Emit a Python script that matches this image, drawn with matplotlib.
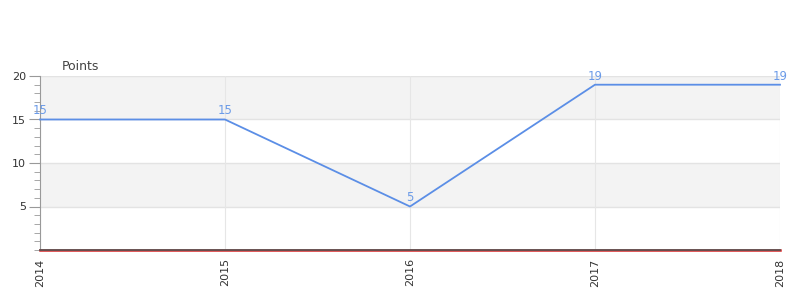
import matplotlib
matplotlib.use("Agg")
import matplotlib.pyplot as plt
from matplotlib.ticker import MultipleLocator

years = ["2014", "2015", "2016", "2017", "2018"]
points = [15, 15, 5, 19, 19]
baseline = [0, 0, 0, 0, 0]
y_ticks = [5, 10, 15, 20]

fig = plt.figure(figsize=(8, 3), dpi=100)
ax = fig.add_axes([0.05, 1 - 250/300, 0.925, (250 - 76)/300])

x = list(range(len(years)))
ax.set_xlim(0, len(years) - 1)
ax.set_ylim(0, 20)

# alternating bands
for lo, hi in [(15, 20), (5, 10)]:
    ax.axhspan(lo, hi, color="#f3f3f3", zorder=0, lw=0)
for yv in [5, 10, 15, 20]:
    ax.axhline(yv, color="#e3e3e3", lw=1, zorder=1)
for xv in x:
    ax.axvline(xv, color="#e6e6e6", lw=0.8, zorder=1)

ax.plot(x, baseline, color="#d62728", lw=1.8, zorder=3, clip_on=False)
ax.plot(x, points, color="#5b8ee6", lw=1.3, zorder=4, clip_on=False)
for xi, v in zip(x, points):
    ax.annotate(str(v), (xi, v), xytext=(0, 1.5), textcoords="offset points",
                ha="center", va="bottom", fontsize=8.5, color="#6b9be8")

ax.set_xticks(x)
ax.set_xticklabels(years, rotation=90, fontsize=8, color="#333333")
ax.set_yticks(y_ticks)
ax.set_yticklabels([str(t) for t in y_ticks], fontsize=8, color="#333333")
ax.yaxis.set_minor_locator(MultipleLocator(1))
ax.tick_params(axis="y", which="major", length=8, color="#999999", pad=2)
ax.tick_params(axis="y", which="minor", length=4, color="#999999")
ax.tick_params(axis="x", length=0, pad=6)

for s in ["top", "right"]:
    ax.spines[s].set_visible(False)
ax.spines["left"].set_color("#999999")
ax.spines["bottom"].set_color("#555555")
ax.spines["bottom"].set_linewidth(1.2)
ax.spines["bottom"].set_zorder(6)

fig.text(62/800, 1 - 66/300, "Points", fontsize=9, color="#444444", va="center", ha="left")

fig.savefig("out.png", dpi=100)
